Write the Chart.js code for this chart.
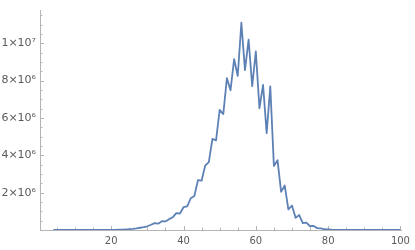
<!DOCTYPE html>
<html>
<head>
<meta charset="utf-8">
<script src="https://cdn.jsdelivr.net/npm/chart.js@4"></script>
<style>
  html, body { margin: 0; padding: 0; background: #fff; }
  #wrap { width: 415px; height: 250px; }
</style>
</head>
<body>
<div id="wrap"><canvas id="myChart"></canvas></div>
<script>
// n = 4 .. 100
const firstN = 4;
const counts = [
  0, 0, 0, 0, 0, 0, 0, 0, 0, 0,                 // 4-13
  0.0005e6, 0.001e6, 0.002e6, 0.003e6, 0.004e6, // 14-18
  0.006e6, 0.008e6, 0.011e6, 0.015e6, 0.022e6,  // 19-23
  0.032e6, 0.045e6, 0.065e6, 0.09e6, 0.12e6,    // 24-28
  0.15e6, 0.2e6, 0.28e6, 0.37e6, 0.34e6,        // 29-33
  0.47e6, 0.46e6, 0.58e6, 0.68e6, 0.9e6,        // 34-38
  0.88e6, 1.22e6, 1.26e6, 1.7e6, 1.82e6,        // 39-43
  2.67e6, 2.64e6, 3.45e6, 3.64e6, 4.88e6,       // 44-48
  4.8e6, 6.43e6, 6.21e6, 8.13e6, 7.48e6,        // 49-53
  9.15e6, 8.25e6, 11.1e6, 8.56e6, 10.2e6,       // 54-58
  7.7e6, 9.56e6, 6.52e6, 7.77e6, 5.19e6,        // 59-63
  7.69e6, 3.43e6, 3.74e6, 2.04e6, 2.38e6,       // 64-68
  1.11e6, 1.31e6, 0.65e6, 0.8e6, 0.37e6,        // 69-73
  0.4e6, 0.2e6, 0.22e6, 0.1e6, 0.09e6,          // 74-78
  0.04e6, 0.03e6, 0.015e6, 0.01e6, 0.005e6,     // 79-83
  0.003e6, 0.002e6, 0.001e6, 0.0005e6, 0,       // 84-88
  0, 0, 0, 0, 0, 0, 0, 0, 0, 0, 0, 0            // 89-100
];

const xMajor = [20, 40, 60, 80, 100];
const xMinor = [5, 10, 15, 25, 30, 35, 45, 50, 55, 65, 70, 75, 85, 90, 95];
const yMajor = [2e6, 4e6, 6e6, 8e6, 1e7];
const yMajorLabels = ['2\u00d710\u2076', '4\u00d710\u2076', '6\u00d710\u2076', '8\u00d710\u2076', '1\u00d710\u2077'];
const yMinor = [0.5e6, 1e6, 1.5e6, 2.5e6, 3e6, 3.5e6, 4.5e6, 5e6, 5.5e6, 6.5e6, 7e6, 7.5e6,
  8.5e6, 9e6, 9.5e6, 10.5e6, 11e6, 11.5e6];

const points = counts.map((v, i) => ({ x: firstN + i, y: v }));

const axisColor = '#b5b5b5';
const labelColor = '#5a5a5a';

// Mathematica style ticks, pointing into the plot
const innerTicks = {
  id: 'innerTicks',
  beforeDatasetsDraw(chart) {
    const { ctx, scales: { x, y } } = chart;
    const x0 = x.left, y0 = y.getPixelForValue(0);
    ctx.save();
    ctx.strokeStyle = axisColor;
    ctx.lineWidth = 1;
    ctx.beginPath();
    xMajor.forEach(v => { const p = Math.round(x.getPixelForValue(v)) + 0.5; ctx.moveTo(p, y0); ctx.lineTo(p, y0 - 4); });
    xMinor.forEach(v => { const p = Math.round(x.getPixelForValue(v)) + 0.5; ctx.moveTo(p, y0); ctx.lineTo(p, y0 - 2.5); });
    yMajor.forEach(v => { const p = Math.round(y.getPixelForValue(v)) + 0.5; ctx.moveTo(x0, p); ctx.lineTo(x0 + 4, p); });
    yMinor.forEach(v => { const p = Math.round(y.getPixelForValue(v)) + 0.5; ctx.moveTo(x0, p); ctx.lineTo(x0 + 2.5, p); });
    ctx.stroke();
    ctx.restore();
  }
};

new Chart(document.getElementById('myChart'), {
  type: 'line',
  data: {
    datasets: [{
      data: points,
      borderColor: 'rgb(94,129,181)',
      borderWidth: 1.8,
      pointRadius: 0,
      tension: 0,
      fill: false,
      borderJoinStyle: 'round'
    }]
  },
  options: {
    responsive: true,
    maintainAspectRatio: false,
    animation: false,
    layout: { padding: { top: 0, right: 9, bottom: 0, left: 0 } },
    plugins: { legend: { display: false }, tooltip: { enabled: false } },
    scales: {
      x: {
        type: 'linear',
        min: 0.3,
        max: 100.3,
        afterBuildTicks: s => { s.ticks = xMajor.map(v => ({ value: v })); },
        afterFit: s => { s.height = 20; },
        grid: { display: true, drawOnChartArea: false, drawTicks: false, color: axisColor },
        border: { display: true, color: axisColor },
        ticks: {
          padding: 5,
          maxRotation: 0,
          color: labelColor,
          font: { family: 'DejaVu Sans', size: 10 },
          callback: v => String(v)
        }
      },
      y: {
        min: 0,
        max: 1.175e7,
        afterBuildTicks: s => { s.ticks = yMajor.map(v => ({ value: v })); },
        afterFit: s => { s.width = 40; },
        grid: { display: true, drawOnChartArea: false, drawTicks: false, color: axisColor },
        border: { display: true, color: axisColor },
        ticks: {
          padding: 4,
          color: labelColor,
          font: { family: 'DejaVu Sans', size: 11 },
          callback: v => yMajorLabels[yMajor.indexOf(v)]
        }
      }
    }
  },
  plugins: [innerTicks]
});
</script>
</body>
</html>
